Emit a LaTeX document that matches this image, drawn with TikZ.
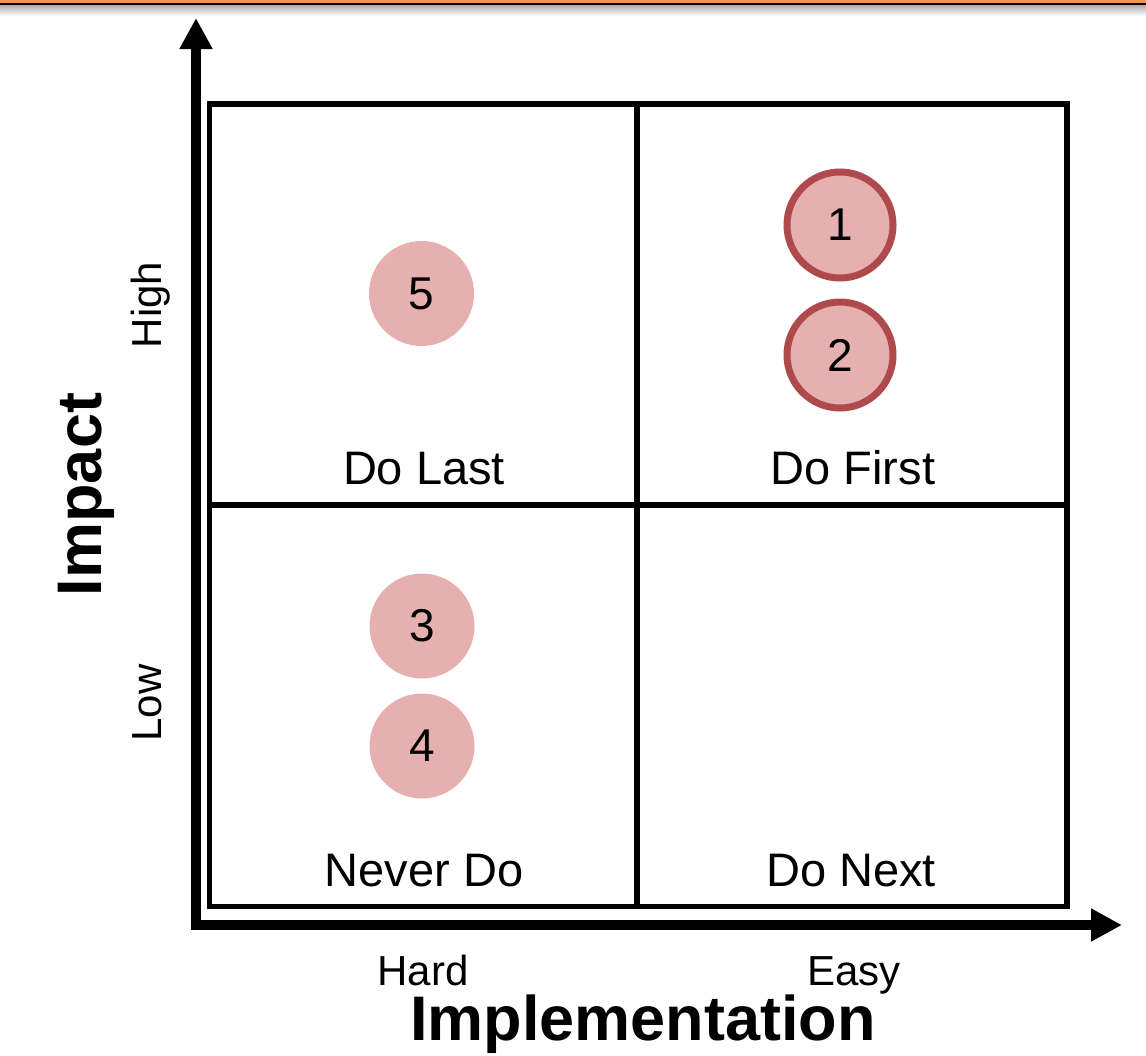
\documentclass[tikz,border=0pt]{standalone}
\usepackage{fontspec}
\setmainfont{Liberation Sans}
\usepackage{tikz}
\usetikzlibrary{arrows.meta}

\definecolor{barorange}{RGB}{247,150,70}
\definecolor{dotfill}{RGB}{230,176,176}
\definecolor{dotline}{RGB}{174,74,75}

\begin{document}
\begin{tikzpicture}[x=0.5pt,y=-0.5pt,
		axis/.style={line width=5pt,{Triangle[length=15.5pt,width=15.5pt]}-{Triangle[length=15.5pt,width=15.5pt]}},
		gridline/.style={line width=2.8pt},
		quadlabel/.style={anchor=base,font=\fontsize{23.5}{28}\selectfont},
		levellabel/.style={anchor=base,font=\fontsize{21}{25}\selectfont},
		axislabel/.style={anchor=base,font=\fontsize{31.5}{37}\selectfont\bfseries},
		dot/.style={circle,inner sep=0pt,fill=dotfill,minimum size=52.5pt,font=\fontsize{23}{27}\selectfont},
		ring/.style={draw=dotline,line width=3.5pt,minimum size=53pt}]
			\useasboundingbox (0,0) rectangle (1146,1055);

			% bar on top
			\fill[barorange] (0,0) rectangle (1146,3);
			\fill[black] (0,3) rectangle (1146,5.5);
			\shade[top color=gray!60, bottom color=white] (0,5.5) rectangle (1146,16);

			% quadrants
			\draw[gridline] (209.5,104) rectangle (1067,906.5);
			\draw[gridline] (637,104) -- (637,906.5) (209.5,505) -- (1067,505);

			% axes
			\coordinate (ytip) at (196,18);
			\coordinate (origin) at (196,925);
			\coordinate (xtip) at (1122,925);
			\draw[axis] (ytip) -- (origin) -- (xtip);

			\node[quadlabel] (dolast) at (424,484) {Do Last};
			\node[quadlabel] (dofirst) at (853,484) {Do First};
			\node[quadlabel] (neverdo) at (424,886) {Never Do};
			\node[quadlabel] (donext) at (851,886) {Do Next};

			\node[levellabel] (hard) at (423,985) {Hard};
			\node[levellabel] (easy) at (854,985) {Easy};
			\node[levellabel,rotate=90] (high) at (161.7,305) {High};
			\node[levellabel,rotate=90] (low) at (161.7,703) {Low};

			\node[axislabel] (impl) at (643,1040) {Implementation};
			\node[axislabel,rotate=90] (impact) at (101.7,494.5) {Impact};

			\node[dot,ring] (d1) at (840,225) {1};
			\node[dot,ring] (d2) at (840,355) {2};
			\node[dot] (d5) at (421.5,293.5) {5};
			\node[dot] (d3) at (422,626) {3};
			\node[dot] (d4) at (422,746) {4};
		\end{tikzpicture}
\end{document}
